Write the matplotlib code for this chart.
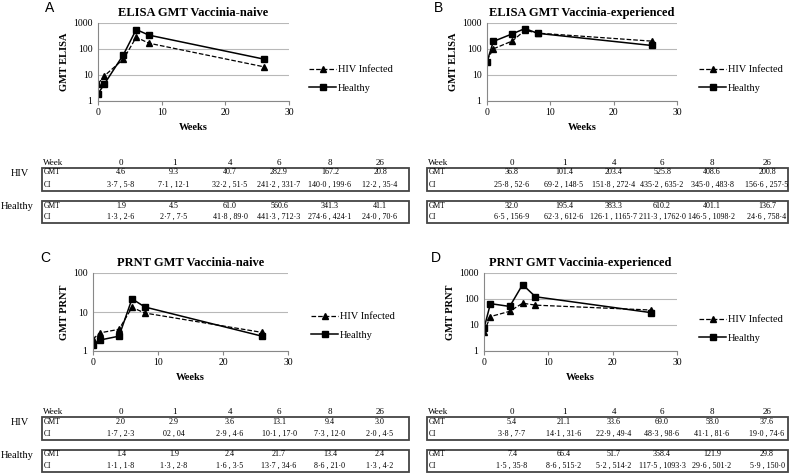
import matplotlib
matplotlib.use("Agg")
from matplotlib import pyplot as plt
from matplotlib.patches import Rectangle

plt.rcParams['font.family'] = ['Liberation Serif', 'DejaVu Serif']

weeks = [0, 1, 4, 6, 8, 26]

# ELISA, vaccinia-naive
elisa_naive_hiv = [4.6, 9.3, 40.7, 282.9, 167.2, 20.8]
elisa_naive_hiv_ci = ["3·7 , 5·8", "7·1 , 12·1", "32·2 , 51·5", "241·2 , 331·7", "140·0 , 199·6", "12·2 , 35·4"]
elisa_naive_healthy = [1.9, 4.5, 61.0, 560.6, 341.3, 41.1]
elisa_naive_healthy_ci = ["1·3 , 2·6", "2·7 , 7·5", "41·8 , 89·0", "441·3 , 712·3", "274·6 , 424·1", "24·0 , 70·6"]

# ELISA, vaccinia-experienced
elisa_exp_hiv = [36.8, 101.4, 203.4, 525.8, 408.6, 200.8]
elisa_exp_hiv_ci = ["25·8 , 52·6", "69·2 , 148·5", "151·8 , 272·4", "435·2 , 635·2", "345·0 , 483·8", "156·6 , 257·5"]
elisa_exp_healthy = [32.0, 195.4, 383.3, 610.2, 401.1, 136.7]
elisa_exp_healthy_ci = ["6·5 , 156·9", "62·3 , 612·6", "126·1 , 1165·7", "211·3 , 1762·0", "146·5 , 1098·2", "24·6 , 758·4"]

# PRNT, vaccinia-naive
prnt_naive_hiv = [2.0, 2.9, 3.6, 13.1, 9.4, 3.0]
prnt_naive_hiv_ci = ["1·7 , 2·3", "02 , 04", "2·9 , 4·6", "10·1 , 17·0", "7·3 , 12·0", "2·0 , 4·5"]
prnt_naive_healthy = [1.4, 1.9, 2.4, 21.7, 13.4, 2.4]
prnt_naive_healthy_ci = ["1·1 , 1·8", "1·3 , 2·8", "1·6 , 3·5", "13·7 , 34·6", "8·6 , 21·0", "1·3 , 4·2"]

# PRNT, vaccinia-experienced
prnt_exp_hiv = [5.4, 21.1, 33.6, 69.0, 58.0, 37.6]
prnt_exp_hiv_ci = ["3·8 , 7·7", "14·1 , 31·6", "22·9 , 49·4", "48·3 , 98·6", "41·1 , 81·6", "19·0 , 74·6"]
prnt_exp_healthy = [7.4, 66.4, 51.7, 358.4, 121.9, 29.8]
prnt_exp_healthy_ci = ["1·5 , 35·8", "8·6 , 515·2", "5·2 , 514·2", "117·5 , 1093·3", "29·6 , 501·2", "5·9 , 150·0"]

W, H = 798, 474
fig = plt.figure(figsize=(W / 100, H / 100), dpi=100)


def fx(x):
    return x / W


def fy(y):
    return 1 - y / H


def panel(letter, title, ylabel, hiv, healthy, left, right, top, bottom, ytop, leg_x, leg_y):
    ax = fig.add_axes([fx(left), fy(bottom), fx(right - left), (bottom - top) / H])
    ax.plot(weeks, hiv, '--', color='black', marker='^', markersize=4.8, linewidth=0.9, label='HIV Infected')
    ax.plot(weeks, healthy, '-', color='black', marker='s', markersize=4.5, linewidth=1.1, label='Healthy')
    ax.set_yscale('log')
    ax.set_ylim(1, ytop)
    ax.set_xlim(0, 30)
    ax.set_xticks([0, 10, 20, 30])
    ax.yaxis.set_major_formatter(matplotlib.ticker.FuncFormatter(lambda v, p: "%d" % v))
    ax.yaxis.set_minor_locator(matplotlib.ticker.NullLocator())
    ax.grid(True, axis='y', color='#b8b8b8', linewidth=0.8)
    ax.set_axisbelow(True)
    for s in ['top', 'right']:
        ax.spines[s].set_visible(False)
    for s in ['left', 'bottom']:
        ax.spines[s].set_color('#888888')
    ax.tick_params(axis='y', length=0, labelsize=7, pad=4)
    ax.tick_params(axis='x', length=3, color='#888888', labelsize=7, pad=2)
    ax.set_title(title, fontsize=9, fontweight='bold', pad=5)
    ax.set_ylabel(ylabel, fontsize=7.5, fontweight='bold', labelpad=3)
    ax.set_xlabel('Weeks', fontsize=7.5, fontweight='bold', labelpad=4)
    ax.legend(loc='center left', bbox_to_anchor=(fx(leg_x), fy(leg_y)), bbox_transform=fig.transFigure,
              frameon=False, fontsize=7.5, handlelength=2.6, handletextpad=0.2, labelspacing=0.9,
              borderpad=0, borderaxespad=0)
    fig.text(fx(left - 53), fy(top - 15), letter, family='Liberation Sans', fontsize=10, va='center', ha='left')
    return ax


panel('A', 'ELISA GMT Vaccinia-naive', 'GMT ELISA', elisa_naive_hiv, elisa_naive_healthy,
      98, 289, 23, 101, 1000, 309, 79)
panel('B', 'ELISA GMT Vaccinia-experienced', 'GMT ELISA', elisa_exp_hiv, elisa_exp_healthy,
      487, 677, 23, 101, 1000, 699, 79)
panel('C', 'PRNT GMT Vaccinia-naive', 'GMT PRNT', prnt_naive_hiv, prnt_naive_healthy,
      93, 288, 273, 351, 100, 311, 326)
panel('D', 'PRNT GMT Vaccinia-experienced', 'GMT PRNT', prnt_exp_hiv, prnt_exp_healthy,
      484, 677, 273, 351, 1000, 699, 329)


def table(x0, x1, cols, ytop, hiv, hiv_ci, healthy, healthy_ci, row_labels):
    # header row
    fig.text(fx(x0 + 1), fy(ytop), 'Week', fontsize=6.5, va='center', ha='left')
    for c, w in zip(cols, weeks):
        fig.text(fx(c), fy(ytop), str(w), fontsize=6.5, va='center', ha='center')
    boxes = [(ytop + 5, ytop + 28, hiv, hiv_ci, 'HIV', 20),
             (ytop + 38, ytop + 60, healthy, healthy_ci, 'Healthy', 17)]
    for b0, b1, gmt, ci, name, lx in boxes:
        fig.patches.append(Rectangle((fx(x0), fy(b1)), fx(x1 - x0), (b1 - b0) / H,
                                     transform=fig.transFigure, fill=False, edgecolor='#444444', linewidth=1.3))
        g_y = b0 + 4.5
        c_y = b1 - 6
        fig.text(fx(x0 + 2), fy(g_y), 'GMT', fontsize=5.5, va='center', ha='left')
        fig.text(fx(x0 + 2), fy(c_y), 'CI', fontsize=5.5, va='center', ha='left')
        for c, v, s in zip(cols, gmt, ci):
            fig.text(fx(c), fy(g_y), "%.1f" % v, fontsize=5.8, va='center', ha='center')
            fig.text(fx(c), fy(c_y), s, fontsize=5.8, va='center', ha='center')
        if row_labels:
            fig.text(fx(lx), fy(g_y + 1), name, fontsize=7.5, va='center', ha='center')


left_cols = [121, 174, 230, 279, 330, 380]
right_cols = [512, 564, 614, 662, 712, 767]

table(42, 409, left_cols, 163, elisa_naive_hiv, elisa_naive_hiv_ci, elisa_naive_healthy, elisa_naive_healthy_ci, True)
table(427, 788, right_cols, 163, elisa_exp_hiv, elisa_exp_hiv_ci, elisa_exp_healthy, elisa_exp_healthy_ci, False)
table(42, 409, left_cols, 412, prnt_naive_hiv, prnt_naive_hiv_ci, prnt_naive_healthy, prnt_naive_healthy_ci, True)
table(427, 788, right_cols, 412, prnt_exp_hiv, prnt_exp_hiv_ci, prnt_exp_healthy, prnt_exp_healthy_ci, False)

fig.savefig('out.png', dpi=100)
